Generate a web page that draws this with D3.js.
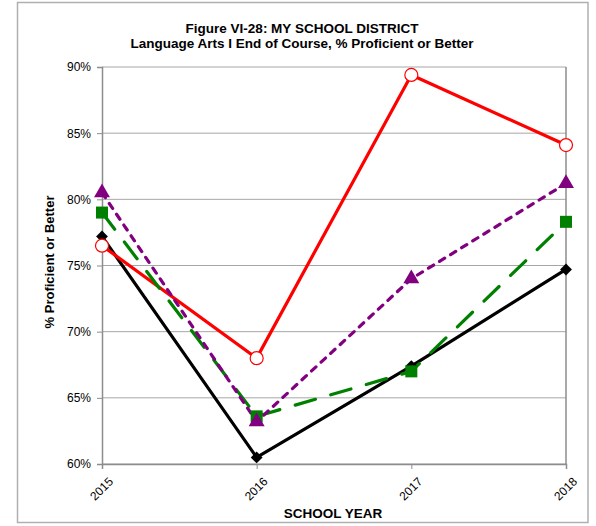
<!DOCTYPE html>
<html><head><meta charset="utf-8">
<script src="https://cdn.jsdelivr.net/npm/d3@7/dist/d3.min.js"></script>
<style>body{margin:0;background:#fff;} text{font-family:"Liberation Sans",Arial,sans-serif;}</style>
</head><body>
<svg id="c" width="596" height="526"></svg>
<script>
const years = ["2015","2016","2017","2018"];
const yTicks = [0.60,0.65,0.70,0.75,0.80,0.85,0.90];
const blackVals  = [0.772, 0.605, 0.674, 0.747];
const redVals    = [0.765, 0.680, 0.894, 0.841];
const greenVals  = [0.790, 0.636, 0.670, 0.783];
const purpleVals = [0.805, 0.632, 0.740, 0.812];
const titleLines = ["Figure VI-28: MY SCHOOL DISTRICT","Language Arts I End of Course, % Proficient or Better"];

const svg = d3.select("#c");
const L=102,R=566,T=67,B=464;
svg.append("rect").attr("x",17.5).attr("y",2.5).attr("width",570.5).attr("height",520).attr("fill","#fff").attr("stroke","#b0b0b0").attr("stroke-width",1.5);

const x = d3.scalePoint().domain(years).range([L,R]);
const y = d3.scaleLinear().domain([0.60,0.90]).range([B,T]);

svg.append("g").selectAll("line").data(yTicks).join("line")
  .attr("x1",L).attr("x2",R).attr("y1",d=>y(d)).attr("y2",d=>y(d))
  .attr("stroke","#a6a6a6").attr("stroke-width",1);
svg.append("line").attr("x1",R).attr("x2",R).attr("y1",T).attr("y2",B).attr("stroke","#8c8c8c").attr("stroke-width",1.5);

const yAxis = svg.append("g").attr("transform",`translate(${L},0)`)
  .call(d3.axisLeft(y).tickValues(yTicks).tickFormat(d3.format(".0%")).tickSize(5).tickPadding(6));
yAxis.select(".domain").attr("stroke","#8c8c8c").attr("stroke-width",1.5);
yAxis.selectAll(".tick line").attr("stroke","#8c8c8c");
yAxis.selectAll("text").attr("font-size",12).attr("fill","#000").attr("font-family","Liberation Sans, Arial, sans-serif");

const xAxis = svg.append("g").attr("transform",`translate(0,${B})`)
  .call(d3.axisBottom(x).tickSize(5).tickPadding(4));
xAxis.select(".domain").attr("stroke","#8c8c8c").attr("stroke-width",1.5);
xAxis.selectAll(".tick line").attr("stroke","#8c8c8c");
xAxis.selectAll("text").attr("font-size",12).attr("fill","#000").attr("font-family","Liberation Sans, Arial, sans-serif")
  .attr("text-anchor","end").attr("dy",0).attr("transform","translate(5,12) rotate(-45)");

const line = d3.line().x((d,i)=>x(years[i])).y(d=>y(d));
const series = [
  {vals:blackVals,color:"#000",dash:null,shape:"diamond"},
  {vals:redVals,color:"#ff0000",dash:null,shape:"circle"},
  {vals:greenVals,color:"#008000",dash:"21,16",shape:"square"},
  {vals:purpleVals,color:"#800080",dash:"6,7",shape:"triangle"}
];
series.forEach(s=>{
  svg.append("path").datum(s.vals).attr("d",line).attr("fill","none")
    .attr("stroke",s.color).attr("stroke-width",3.2).attr("stroke-dasharray",s.dash)
    .attr("stroke-linecap",s.dash?"round":"butt").attr("stroke-linejoin","round");
});
series.forEach(s=>{
  const g = svg.append("g");
  s.vals.forEach((v,i)=>{
    const cx=x(years[i]), cy=y(v);
    if(s.shape==="circle"){
      g.append("circle").attr("cx",cx).attr("cy",cy).attr("r",6.5).attr("fill","#fff").attr("stroke",s.color).attr("stroke-width",1.2);
    } else if(s.shape==="diamond"){
      g.append("path").attr("d",d3.symbol(d3.symbolSquare,70)()).attr("transform",`translate(${cx},${cy}) rotate(45)`).attr("fill",s.color);
    } else if(s.shape==="square"){
      g.append("rect").attr("x",cx-6).attr("y",cy-6).attr("width",12).attr("height",12).attr("fill",s.color);
    } else {
      g.append("path").attr("d",d3.symbol(d3.symbolTriangle,110)()).attr("transform",`translate(${cx},${cy})`).attr("fill",s.color);
    }
  });
});

svg.append("g").selectAll("text").data(titleLines).join("text")
  .attr("x",302).attr("y",(d,i)=>33+i*15).attr("text-anchor","middle")
  .attr("font-size",13.5).attr("font-weight","bold").text(d=>d);
svg.append("text").attr("transform","translate(54,262) rotate(-90)").attr("text-anchor","middle")
  .attr("font-size",13).attr("font-weight","bold").text("% Proficient or Better");
svg.append("text").attr("x",333).attr("y",518).attr("text-anchor","middle")
  .attr("font-size",13.5).attr("font-weight","bold").text("SCHOOL YEAR");
</script>
</body></html>
